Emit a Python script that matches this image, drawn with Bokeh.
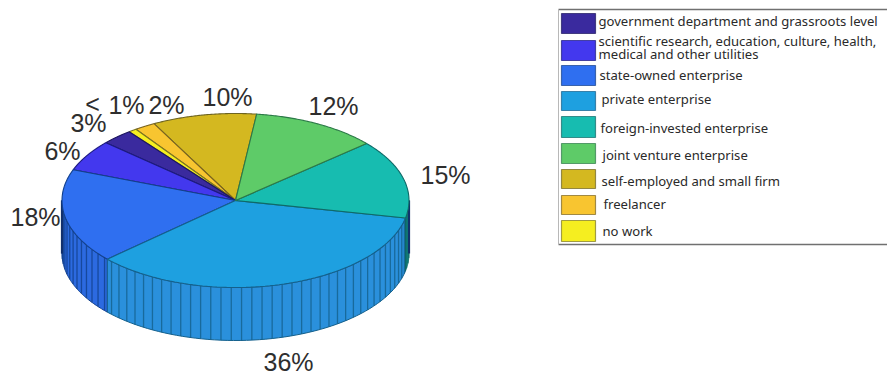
import numpy as np
from bokeh.embed import file_html
from bokeh.models import Range1d
from bokeh.plotting import figure
from bokeh.resources import INLINE
from bokeh.core.properties import value

# Employment destinations, counter-clockwise from the self-employed slice
categories = [
    "self-employed and small firm", "freelancer", "no work",
    "government department and grassroots level",
    "scientific research, education, culture, health,\nmedical and other utilities",
    "state-owned enterprise", "private enterprise",
    "foreign-invested enterprise", "joint venture enterprise",
]
shares = [10, 2, 0.8, 3, 6, 18, 36, 15, 12]
share_labels = ["10%", "2%", "1%", "3%", "6%", "18%", "36%", "15%", "12%"]

top_colors = ["#d4b820", "#f8c530", "#f5ee20", "#3a2a9e", "#4338ee",
              "#2f6ff0", "#1ea0e0", "#17bcb0", "#5ecb68"]
side_colors = ["#c0a520", "#e0b028", "#dcd820", "#33268c", "#3b30d0",
               "#2c6ae0", "#2a90dc", "#149a98", "#4fb458"]
edge_colors = ["#6e6420", "#7a6420", "#7a7620", "#1c1660", "#1c1a80",
               "#12408c", "#14608c", "#0f6a68", "#2c7a48"]

# Order and offsets of the legend, top to bottom
legend_order = [3, 4, 5, 6, 7, 8, 0, 1, 2]
legend_swatch_top = [13, 40, 65, 91, 116, 143, 169, 195, 220]
legend_swatch_bottom = [33, 60, 85, 110, 137, 163, 188, 214, 241]
legend_text_x = [598, 598, 599, 601, 600, 602, 601, 603, 602]
legend_text_y = [20.5, 40, 74, 98, 127, 154, 180, 203, 230]

# Label anchors around the disc, in the same order as the shares
label_x = [227, 166, 126, 88, 62, 35, 288, 445, 333]
label_y = [96, 104, 104, 122, 150, 216, 361, 174, 105]

# Disc geometry
cx, cy, rx, ry, depth = 235, 200, 173.5, 87, 53
start_deg = 83
facet_deg = 3.4

p = figure(width=887, height=374, x_range=Range1d(0, 887), y_range=Range1d(374, 0),
           output_backend="svg", toolbar_location=None, min_border=0,
           background_fill_color="white", border_fill_color="white")
p.axis.visible = False
p.grid.visible = False
p.outline_line_color = None


def rim(deg):
    t = np.radians(deg)
    return cx + rx * np.cos(t), cy - ry * np.sin(t)


sweeps = np.array(shares) / sum(shares) * 360
edges = start_deg + np.concatenate([[0], np.cumsum(sweeps)])

# Outer wall: only the front half of the rim is visible
for i in range(len(shares)):
    lo, hi = edges[i], edges[i + 1]
    for shift in (-360, 0, 360):
        a, b = max(lo + shift, 180), min(hi + shift, 360)
        if a >= b:
            continue
        ts = np.linspace(a, b, 60)
        xs, ys = rim(ts)
        p.patch(np.r_[xs, xs[::-1]], np.r_[ys, ys[::-1] + depth],
                fill_color=side_colors[i], line_color=edge_colors[i], line_width=1)
        marks = np.arange(np.ceil(a / facet_deg) * facet_deg, b, facet_deg)
        mx, my = rim(marks)
        p.segment(mx, my, mx, my + depth, line_color=edge_colors[i], line_width=1.3, line_alpha=0.8)

# Dark silhouette lines at the two extremes of the wall
ex, ey = rim(np.array([180.0, 360.0]))
p.segment(ex, ey, ex, ey + depth, line_color="#12306c", line_width=2.2)

# Top face
for i in range(len(shares)):
    ts = np.linspace(edges[i], edges[i + 1], 80)
    xs, ys = rim(ts)
    p.patch(np.r_[cx, xs], np.r_[cy, ys], fill_color=top_colors[i],
            line_color=edge_colors[i], line_width=1.1)

# Percentage labels
p.text(label_x, label_y, text=share_labels, text_font=value("Liberation Sans"),
       text_font_size="25px", text_color="#2e2e2e", text_align="center", text_baseline="middle")
p.text([92], [103], text=["<"], text_font=value("Liberation Sans"), text_font_size="25px",
       text_color="#2e2e2e", text_align="center", text_baseline="middle")

# Legend frame
p.segment([558, 558], [9, 244], [887, 887], [9, 244], line_color="#707070", line_width=1.5)
p.segment([558], [9], [558], [244], line_color="#b8b8b8", line_width=1)

# Legend entries
for row, i in enumerate(legend_order):
    p.quad(left=[561], right=[595], top=[legend_swatch_top[row]], bottom=[legend_swatch_bottom[row]],
           fill_color=top_colors[i], line_color=edge_colors[i], line_width=1.2, line_alpha=0.7)
    lines = categories[i].split("\n")
    offsets = [legend_text_y[row] + k * 13.5 for k in range(len(lines))]
    p.text([legend_text_x[row]] * len(lines), offsets, text=lines, text_font=value("Noto Sans"),
           text_font_size="13.1px", text_color="#2a2a2a", text_align="left", text_baseline="middle")

open("out.html", "w").write(file_html(p, INLINE))
